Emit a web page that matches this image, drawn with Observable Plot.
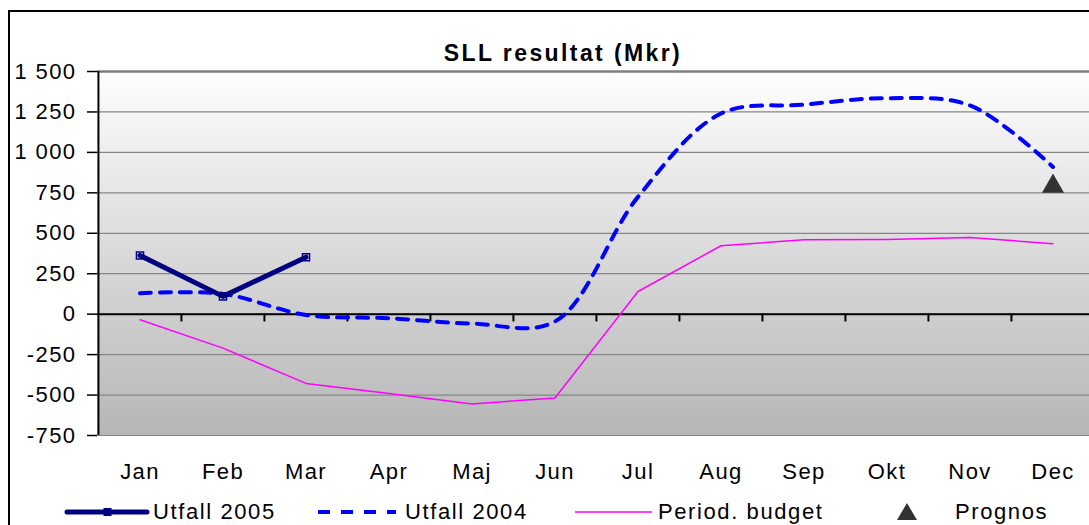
<!DOCTYPE html>
<html>
<head>
<meta charset="utf-8">
<script src="https://cdn.jsdelivr.net/npm/d3@7"></script>
<script src="https://cdn.jsdelivr.net/npm/@observablehq/plot@0.6"></script>
<style>
  html, body { margin: 0; padding: 0; background: #fff; overflow: hidden; width: 1089px; height: 525px; }
  #wrap { position: relative; width: 1089px; height: 525px; overflow: hidden; font-family: "Liberation Sans", Arial, sans-serif; }
  #border { position: absolute; left: 8px; top: 10px; width: 1200px; height: 600px; border: 2px solid #000; box-sizing: border-box; }
  #chart { position: absolute; left: 0; top: 0; }
  #title { position: absolute; left: 313px; width: 500px; top: 40px; text-align: center; font-weight: bold; font-size: 23px; letter-spacing: 2.4px; color: #000; }
  .leg { position: absolute; top: 499px; height: 26px; font-size: 22px; letter-spacing: 1.6px; color: #000; line-height: 26px; white-space: nowrap; }
  .leg svg { position: absolute; top: 0; }
</style>
</head>
<body>
<div id="wrap">
  <div id="border"></div>
  <div id="chart"></div>
  <div id="title">SLL resultat (Mkr)</div>
  <div class="leg" style="left:60px;"><svg width="92" height="26" style="left:0"><line x1="7" y1="13" x2="87" y2="13" stroke="#000080" stroke-width="5" stroke-linecap="round"/><rect x="44" y="9.5" width="7" height="7" fill="#000080" stroke="#000080"/></svg><span style="position:absolute;left:93px;">Utfall 2005</span></div>
  <div class="leg" style="left:316px;"><svg width="82" height="26" style="left:0"><line x1="2" y1="13" x2="80" y2="13" stroke="#0000ff" stroke-width="4" stroke-dasharray="12,11"/></svg><span style="position:absolute;left:89px;">Utfall 2004</span></div>
  <div class="leg" style="left:573px;"><svg width="82" height="26" style="left:0"><line x1="2" y1="13" x2="79" y2="13" stroke="#ff00ff" stroke-width="1.5"/></svg><span style="position:absolute;left:85px;">Period. budget</span></div>
  <div class="leg" style="left:894px;"><svg width="26" height="26" style="left:0"><path d="M13,4 L23,21 L3,21 Z" fill="#333333"/></svg><span style="position:absolute;left:61px;">Prognos</span></div>
</div>
<script>
// ---- data ----
const months = ["Jan", "Feb", "Mar", "Apr", "Maj", "Jun", "Jul", "Aug", "Sep", "Okt", "Nov", "Dec"];
const utfall2005 = [363, 110, 352];
const utfall2004 = [130, 125, -5, -25, -58, -45, 725, 1240, 1295, 1335, 1290, 910];
const budget = [-35, -210, -428, -490, -555, -518, 140, 423, 460, 462, 474, 436];
const prognosMonth = ["Dec"];
const prognos = [790];
const yTicks = [-750, -500, -250, 0, 250, 500, 750, 1000, 1250, 1500];
const yTickLabels = ["-750", "-500", "-250", "0", "250", "500", "750", "1 000", "1 250", "1 500"];

const W = 1110, H = 525;
const mL = 97, mR = 15.4, mT = 71, mB = 90;
const bw = (W - mL - mR) / months.length;

const chart = Plot.plot({
  width: W,
  height: H,
  marginLeft: mL,
  marginRight: mR,
  marginTop: mT,
  marginBottom: mB,
  style: { maxWidth: "none", background: "transparent", fontFamily: "'Liberation Sans', Arial, sans-serif", letterSpacing: "1.4px", overflow: "visible" },
  x: { type: "band", domain: months, padding: 0, label: null },
  y: { domain: [-750, 1500], label: null },
  marks: [
    Plot.frame({ fill: "url(#plotbg)", stroke: null }),
    Plot.ruleY(yTicks, { stroke: "#868686", strokeWidth: 1.2 }),
    Plot.ruleY([yTicks[yTicks.length - 1]], { stroke: "#808080", strokeWidth: 2.5 }),
    Plot.ruleY([0], { stroke: "#000", strokeWidth: 2 }),
    Plot.ruleX(months.slice(1), { x: d => d, dx: -bw / 2, y1: 0, y2: -48, stroke: "#000", strokeWidth: 2 }),
    Plot.ruleX([months[0]], { x: d => d, dx: -bw / 2, stroke: "#000", strokeWidth: 2 }),
    Plot.axisY({ ticks: yTicks, tickSize: 10, tickPadding: 11, fontSize: 22, stroke: "#000", strokeWidth: 1.5, tickFormat: d => yTickLabels[yTicks.indexOf(d)] }),
    Plot.axisX({ tickSize: 0, tickPadding: 28, fontSize: 22 }),
    Plot.line(months, { x: months, y: budget, stroke: "#ff00ff", strokeWidth: 1.5 }),
    Plot.line(months, { x: months, y: utfall2004, stroke: "#0000ff", strokeWidth: 4, strokeDasharray: "11,9", curve: "catmull-rom" }),
    Plot.line(months.slice(0, utfall2005.length), { x: months.slice(0, utfall2005.length), y: utfall2005, stroke: "#000080", strokeWidth: 5, strokeLinejoin: "round" }),
    Plot.dot(months.slice(0, utfall2005.length), { x: months.slice(0, utfall2005.length), y: utfall2005, symbol: "square", r: 4, fill: "none", stroke: "#000080", strokeWidth: 1.5 }),
    Plot.dot(prognosMonth, { x: prognosMonth, y: prognos, symbol: "triangle", r: 8.2, fill: "#333333", stroke: null })
  ]
});

const defs = d3.select(chart).insert("defs", ":first-child");
const g = defs.append("linearGradient").attr("id", "plotbg").attr("x1", 0).attr("y1", 0).attr("x2", 0).attr("y2", 1);
g.append("stop").attr("offset", "0%").attr("stop-color", "#fefefe");
g.append("stop").attr("offset", "100%").attr("stop-color", "#b6b6b6");

document.getElementById("chart").appendChild(chart);
</script>
</body>
</html>
